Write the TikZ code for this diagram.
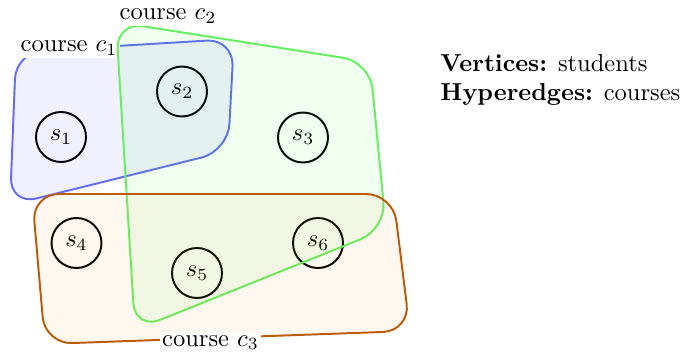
\documentclass[tikz,border=0pt]{standalone}
\definecolor{edgeA}{RGB}{100,108,248}
\definecolor{edgeB}{RGB}{100,240,95}
\definecolor{edgeC}{RGB}{188,92,8}
\tikzset{
  student/.style={circle, draw, line width=0.8pt, minimum size=20.4pt, inner sep=0pt},
  hedge/.style={line width=0.8pt, rounded corners=11pt},
  hlabel/.style={fill=white, inner sep=1pt, anchor=base},
  legend/.style={anchor=base west, inner sep=0pt}
}
\begin{document}
\begin{tikzpicture}[x=0.408pt, y=-0.408pt]
\useasboundingbox (0,0) rectangle (687,352);

% students
\node[student] (s1) at (61,137)    {$s_1$};
\node[student] (s2) at (182,91.5)  {$s_2$};
\node[student] (s3) at (303,137.5) {$s_3$};
\node[student] (s4) at (76.5,243)  {$s_4$};
\node[student] (s5) at (197,273)   {$s_5$};
\node[student] (s6) at (318,243)   {$s_6$};

% course c1
\draw[hedge, draw=edgeA, fill=blue, fill opacity=0.06]
  (16,52) -- (234,39) -- (228,151) -- (10,205) -- cycle;
\node[hlabel] (l1) at (69,52) {course $c_1$};

% course c2
\draw[hedge, draw=edgeB, fill=green, fill opacity=0.06]
  (116,22) -- (370,62) -- (386,229) -- (135,330) -- cycle;
\node[hlabel] (l2) at (168,20) {course $c_2$};

% course c3
\draw[hedge, draw=edgeC, fill=orange, fill opacity=0.06]
  (32,194) -- (393,194) -- (410,331) -- (45,344) -- cycle;
\node[hlabel] (l3) at (210.5,346) {course $c_3$};

% legend
\node[legend] (vx) at (440,71.7) {\textbf{Vertices:} students};
\node[legend] (he) at (440,100)  {\textbf{Hyperedges:} courses};
\end{tikzpicture}
\end{document}
